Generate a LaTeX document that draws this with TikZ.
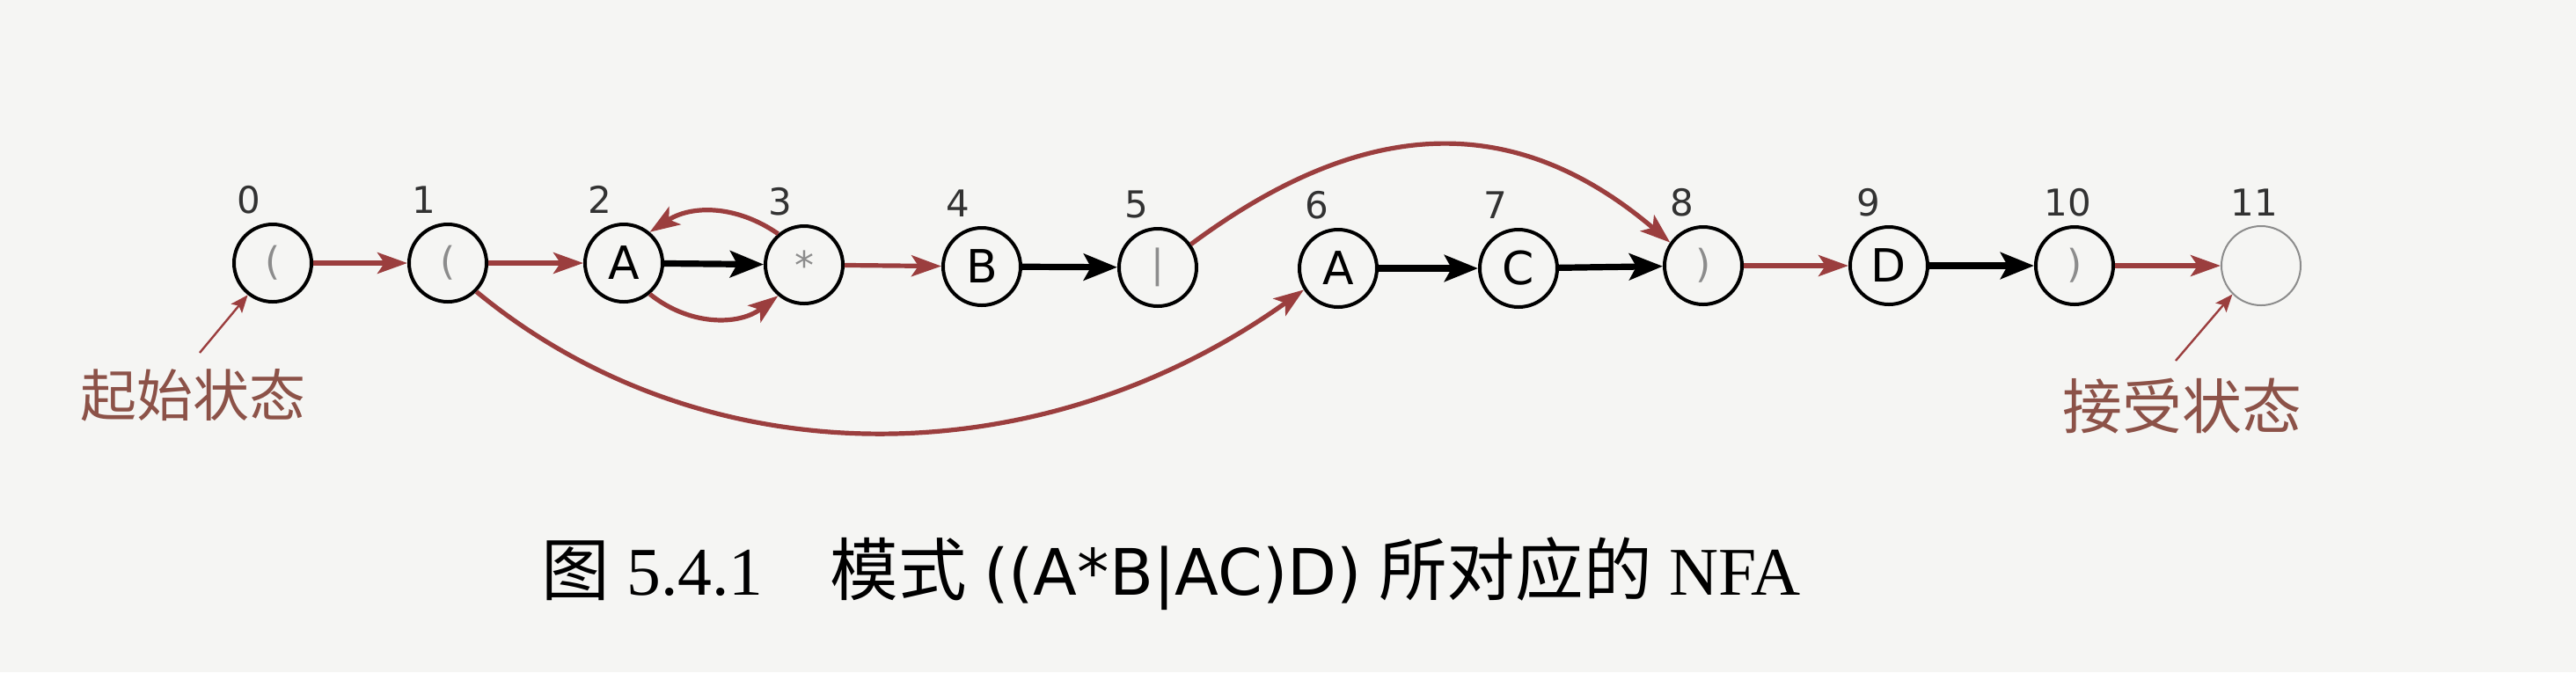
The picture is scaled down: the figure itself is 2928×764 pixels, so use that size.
\documentclass[tikz,border=0pt]{standalone}
\usepackage{fontspec}
\setmainfont{Liberation Serif}
\setsansfont{DejaVu Sans}
\newfontfamily\cjk{Noto Sans CJK SC}
\usetikzlibrary{arrows.meta}
\definecolor{arrred}{RGB}{155,62,62}
\definecolor{txtbrown}{RGB}{140,82,72}
\definecolor{paper}{RGB}{245,245,243}
\definecolor{faint}{RGB}{140,140,140}
\definecolor{numgray}{RGB}{50,50,50}
\begin{document}
\begin{tikzpicture}[x=0.25pt,y=0.25pt,
  state/.style={circle,draw=black,line width=1pt,minimum size=22pt,inner sep=0pt,
    font=\sffamily\fontsize{13}{13}\selectfont},
  sym/.style={state,text=faint,font=\sffamily\fontsize{11}{11}\selectfont},
  final/.style={circle,draw=faint,line width=0.5pt,minimum size=22.5pt,inner sep=0pt},
  num/.style={inner sep=0pt,text=numgray,font=\sffamily\fontsize{10.5}{10.5}\selectfont},
  redarr/.style={draw=arrred,line width=1.3pt,-{Stealth[length=8.5pt,width=6pt,inset=2pt]}},
  blkarr/.style={draw=black,line width=1.8pt,-{Stealth[length=9.5pt,width=7.5pt,inset=2pt]}},
  pointer/.style={draw=arrred,line width=0.6pt,-{Stealth[length=5pt,width=4pt,inset=1pt]}},
  note/.style={inner sep=0pt,text=txtbrown,font=\cjk\fontsize{16}{16}\selectfont},
]
\fill[paper] (0,0) rectangle (2928,-764);
\useasboundingbox (0,0) rectangle (2928,-764);

% states
\node[sym]   (n0)  at (310,-299)  {(};
\node[sym]   (n1)  at (509,-299)  {(};
\node[state] (n2)  at (709,-299)  {A};
\node[sym]   (n3)  at (914,-301)  {\raisebox{-2pt}{*}};
\node[state] (n4)  at (1116,-303) {B};
\node[sym]   (n5)  at (1316,-304) {|};
\node[state] (n6)  at (1521,-305) {A};
\node[state] (n7)  at (1726,-305) {C};
\node[sym]   (n8)  at (1936,-302) {)};
\node[state] (n9)  at (2147,-302) {D};
\node[sym]   (n10) at (2358,-302) {)};
\node[final] (n11) at (2570,-302) {};

% state numbers
\node[num] (l0)  at (283,-227)  {0};
\node[num] (l1)  at (482,-227)  {1};
\node[num] (l2)  at (682,-227)  {2};
\node[num] (l3)  at (887,-229)  {3};
\node[num] (l4)  at (1089,-231) {4};
\node[num] (l5)  at (1292,-232) {5};
\node[num] (l6)  at (1497,-233) {6};
\node[num] (l7)  at (1700,-233) {7};
\node[num] (l8)  at (1912,-230) {8};
\node[num] (l9)  at (2124,-230) {9};
\node[num] (l10) at (2350,-230) {10};
\node[num] (l11) at (2562,-230) {11};

% epsilon transitions (red)
\draw[redarr] (n0) -- (n1);
\draw[redarr] (n1) -- (n2);
\draw[redarr] (n3) -- (n4);
\draw[redarr] (n8) -- (n9);
\draw[redarr] (n10) -- (n11);
\draw[redarr] (n3.130) to[bend right=34] (n2.50);
\draw[redarr] (n2.-50) to[bend right=38] (n3.-130);
\draw[redarr] (n1.-45) .. controls (800,-545) and (1180,-545) .. (n6.212);
\draw[redarr] (n5.35) .. controls (1555,-128) and (1725,-128) .. (n8.145);

% match transitions (black)
\draw[blkarr] (n2) -- (n3);
\draw[blkarr] (n4) -- (n5);
\draw[blkarr] (n6) -- (n7);
\draw[blkarr] (n7) -- (n8);
\draw[blkarr] (n9) -- (n10);

% annotations
\node[note] (start) at (220,-449) {起始状态};
\coordinate (sp) at (227,-401);
\draw[pointer] (sp) -- (n0.232);
\node[note,font=\cjk\fontsize{17}{17}\selectfont] (accept) at (2480,-462) {接受状态};
\coordinate (ap) at (2473,-410);
\draw[pointer] (ap) -- (n11.225);

% caption
\node[inner sep=0pt,text=black,font=\fontsize{19.4}{19.4}\selectfont] (cap) at (1331,-652)
  {{\cjk 图} 5.4.1\hspace{19pt}{\cjk 模式} {\sffamily\fontsize{18.2}{18.2}\selectfont ((A*B|AC)D)} {\cjk 所对应的} NFA};
\end{tikzpicture}
\end{document}
